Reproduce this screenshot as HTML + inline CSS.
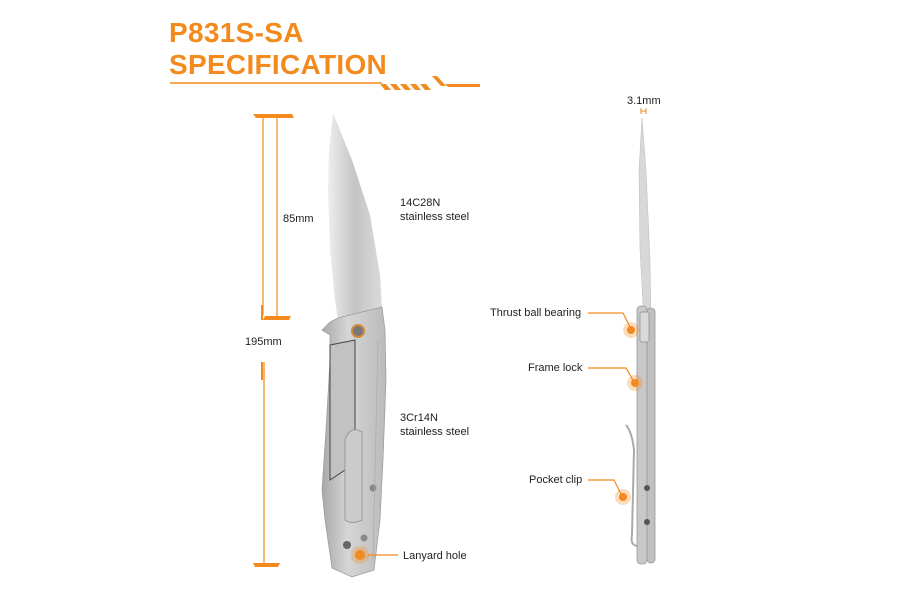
<!DOCTYPE html>
<html><head><meta charset="utf-8"><style>
body{margin:0;width:900px;height:600px;background:#fff;overflow:hidden;position:relative;font-family:"Liberation Sans",sans-serif}
.t{position:absolute;color:#f28a1e;font-weight:bold;font-size:28px;left:169px;line-height:32px;letter-spacing:0.3px}
.l{position:absolute;font-size:11px;color:#222;line-height:14px}
</style></head><body>
<div class="t" style="top:17px">P831S-SA</div>
<div class="t" style="top:49px">SPECIFICATION</div>
<svg width="900" height="600" style="position:absolute;left:0;top:0">
<defs>
<linearGradient id="bl" x1="0" x2="1"><stop offset="0" stop-color="#eeeeee"/><stop offset=".5" stop-color="#c4c4c4"/><stop offset="1" stop-color="#dadada"/></linearGradient>
<linearGradient id="hd" x1="0" x2="1"><stop offset="0" stop-color="#a8a8a8"/><stop offset=".4" stop-color="#d6d6d6"/><stop offset="1" stop-color="#bababa"/></linearGradient>
</defs>
<line x1="170" y1="83" x2="382" y2="83" stroke="#f28a1e" stroke-width="1.5"/>
<g fill="#f28a1e">
<polygon points="380,84 386,84 391,90 385,90"/><polygon points="390,84 396,84 401,90 395,90"/><polygon points="400,84 406,84 411,90 405,90"/><polygon points="410,84 416,84 421,90 415,90"/><polygon points="420,84 426,84 431,90 425,90"/>
<polygon points="432,76 437,76 446,86 441,86"/>
<polygon points="445,84 480,84 480,87 448,87"/>
</g>
<g stroke="#f28a1e" fill="#f28a1e">
<polygon points="253,114 292,114 294,118 256,118" stroke="none"/>
<line x1="263" y1="118" x2="263" y2="315" stroke-width="1.2"/>
<line x1="277" y1="118" x2="277" y2="318" stroke-width="1.2"/>
<polygon points="265,316 291,316 289,320 263,320" stroke="none"/>
<line x1="262" y1="305" x2="262" y2="320" stroke-width="2"/>
<line x1="264" y1="362" x2="264" y2="565" stroke-width="1.2"/>
<line x1="262" y1="362" x2="262" y2="380" stroke-width="2"/>
<polygon points="253,563 280,563 278,567 255,567" stroke="none"/>
<line x1="641" y1="108" x2="641" y2="114" stroke-width="1"/><line x1="646" y1="108" x2="646" y2="114" stroke-width="1"/><line x1="641" y1="111" x2="646" y2="111" stroke-width="1"/>
</g>
<polygon points="333,113 352,160 370,215 380,275 382,310 350,318 338,322 335,300 330,250 328,190 329,150" fill="url(#bl)"/>
<polygon points="338,318 382,307 385,330 386,380 383,460 380,520 374,570 352,577 332,568 325,520 322,490 326,430 330,360 330,335 322,330 330,322" fill="url(#hd)" stroke="#999" stroke-width="0.7"/>
<polygon points="330,345 355,340 355,440 345,470 330,480 330,420" fill="#c2c2c2" stroke="#444" stroke-width="1"/>
<path d="M345 440 Q350 425 362 432 L362 520 Q352 525 345 520 Z" fill="#cccccc" stroke="#999"/>
<circle cx="358" cy="331" r="7" fill="#d08a3a"/><circle cx="358" cy="331" r="5" fill="#777"/>
<circle cx="373" cy="488" r="3.5" fill="#888"/><circle cx="364" cy="538" r="3.5" fill="#888"/><circle cx="347" cy="545" r="4" fill="#666"/>
<line x1="378" y1="340" x2="373" y2="560" stroke="#aaa" stroke-width="0.7"/>
<circle cx="360" cy="555" r="9" fill="#f28a1e" opacity=".3"/><circle cx="360" cy="555" r="5" fill="#f28a1e"/>
<line x1="368" y1="555" x2="398" y2="555" stroke="#f28a1e" stroke-width="1.2"/>
<polygon points="642,118 646,170 650,260 651,320 644,322 640,250 639,170" fill="#d8d8d8" stroke="#bbb" stroke-width="0.5"/>
<rect x="637" y="306" width="10" height="258" rx="4" fill="#c8c8c8" stroke="#999" stroke-width="0.8"/>
<rect x="647" y="308" width="8" height="255" rx="4" fill="#c0c0c0" stroke="#999" stroke-width="0.8"/>
<rect x="640" y="312" width="9" height="30" rx="2" fill="#dadada" stroke="#888" stroke-width="0.7"/>
<path d="M626 425 Q632 432 634 450 L632 535 Q630 545 637 546" fill="none" stroke="#aaa" stroke-width="2"/>
<circle cx="647" cy="488" r="3" fill="#555"/><circle cx="647" cy="522" r="3" fill="#555"/>
<g fill="#f28a1e" stroke="#f28a1e" stroke-width="1.2">
<circle cx="631" cy="330" r="8" opacity=".3" stroke="none"/><circle cx="631" cy="330" r="4" stroke="none"/>
<polyline points="588,313 623,313 631,329" fill="none"/>
<circle cx="635" cy="383" r="8" opacity=".3" stroke="none"/><circle cx="635" cy="383" r="4" stroke="none"/>
<polyline points="588,368 626,368 634,382" fill="none"/>
<circle cx="623" cy="497" r="8" opacity=".3" stroke="none"/><circle cx="623" cy="497" r="4" stroke="none"/>
<polyline points="588,480 614,480 622,496" fill="none"/>
</g>
</svg>
<div class="l" style="left:283px;top:212px">85mm</div>
<div class="l" style="left:245px;top:335px">195mm</div>
<div class="l" style="left:400px;top:196px">14C28N<br>stainless steel</div>
<div class="l" style="left:400px;top:411px">3Cr14N<br>stainless steel</div>
<div class="l" style="left:403px;top:549px">Lanyard hole</div>
<div class="l" style="left:627px;top:94px">3.1mm</div>
<div class="l" style="left:490px;top:306px">Thrust ball bearing</div>
<div class="l" style="left:528px;top:361px">Frame lock</div>
<div class="l" style="left:529px;top:473px">Pocket clip</div>
</body></html>
